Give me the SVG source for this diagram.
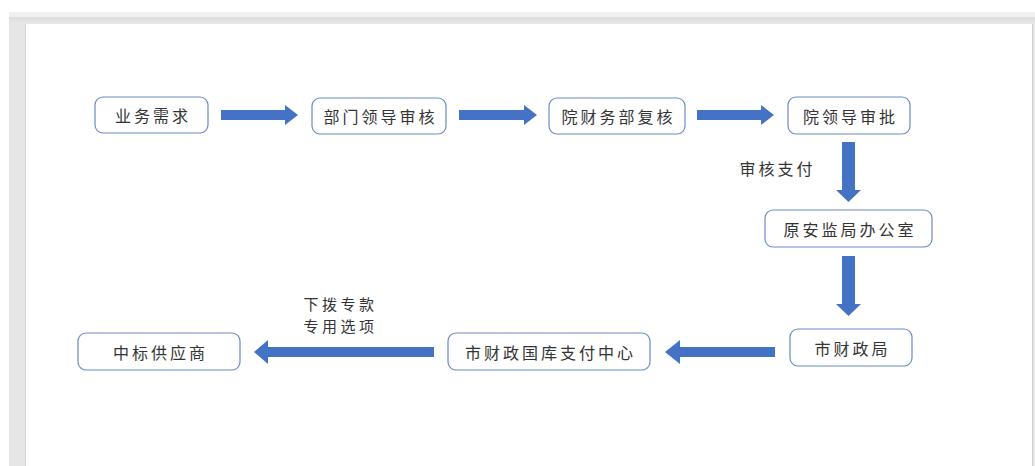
<svg xmlns="http://www.w3.org/2000/svg" width="1035" height="466" viewBox="0 0 1035 466">
<defs>
<linearGradient id="tb" x1="0" y1="0" x2="0" y2="1">
<stop offset="0" stop-color="#dcdcdc"/>
<stop offset="1" stop-color="#e8e8e8"/>
</linearGradient>
</defs>
<style>
.node rect{fill:#ffffff;stroke:#6a8bc9;stroke-width:1.2}
.node text,.lbl{font-family:"Noto Sans CJK SC","Noto Sans",sans-serif;font-size:16px;fill:#333333;letter-spacing:3px;text-anchor:middle;dominant-baseline:central}
.lbl2{font-size:15px;letter-spacing:3.5px}
.arr{fill:#4472c4}
</style>
<rect x="0" y="0" width="1035" height="466" fill="#ffffff"/>
<rect x="9" y="12" width="1026" height="454" fill="#e6e6e6"/>
<rect x="9" y="12" width="1026" height="5" fill="#f1f0ee"/>
<rect x="9" y="17" width="1026" height="7" fill="url(#tb)"/>
<rect x="26" y="24" width="1006" height="442" fill="#ffffff"/>
<line x1="1032.5" y1="24" x2="1032.5" y2="466" stroke="#cfcfcf" stroke-width="1"/>
<line x1="25.5" y1="24" x2="25.5" y2="466" stroke="#d6d6d6" stroke-width="1"/>
<g id="n1" class="node"><rect x="95" y="97" width="113" height="36" rx="8"/><text x="153" y="115">业务需求</text></g>
<g id="n2" class="node"><rect x="312" y="98" width="134" height="36" rx="8"/><text x="380.5" y="116">部门领导审核</text></g>
<g id="n3" class="node"><rect x="549" y="98" width="136" height="36" rx="8"/><text x="618.5" y="116">院财务部复核</text></g>
<g id="n4" class="node"><rect x="788" y="97" width="122" height="37" rx="8"/><text x="850.5" y="115.5">院领导审批</text></g>
<g id="n5" class="node"><rect x="765" y="210" width="167" height="37" rx="8"/><text x="850" y="228.5">原安监局办公室</text></g>
<g id="n6" class="node"><rect x="790" y="329" width="122" height="37" rx="8"/><text x="852.5" y="347.5">市财政局</text></g>
<g id="n7" class="node"><rect x="448" y="333" width="202" height="37" rx="8"/><text x="550.5" y="351.5">市财政国库支付中心</text></g>
<g id="n8" class="node"><rect x="78" y="333" width="162" height="37" rx="8"/><text x="160.5" y="351.5">中标供应商</text></g>
<g id="connectors">
<polygon class="arr" points="221,110 285,110 285,105 298,115 285,125 285,120 221,120"/>
<polygon class="arr" points="459,110 524,110 524,105 537,115 524,125 524,120 459,120"/>
<polygon class="arr" points="697,110 761,110 761,105 774,115 761,125 761,120 697,120"/>
<polygon class="arr" points="842,142 855,142 855,190 861,190 848.5,202 836,190 842,190"/>
<polygon class="arr" points="842,256 855,256 855,304 861,304 848.5,316 836,304 842,304"/>
<polygon class="arr" points="775,347 680,347 680,340 665,352 680,364 680,357 775,357"/>
<polygon class="arr" points="434,347 268,347 268,340 254,352 268,364 268,357 434,357"/>
<text class="lbl" x="777.5" y="168">审核支付</text>
<text class="lbl lbl2" x="340.5" y="303">下拨专款</text>
<text class="lbl lbl2" x="340.5" y="325">专用选项</text>
</g>
</svg>
